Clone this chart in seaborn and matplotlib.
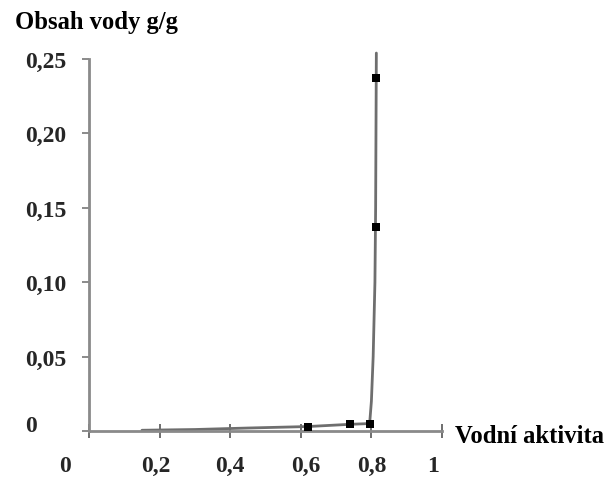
import matplotlib
matplotlib.use("Agg")
import matplotlib.pyplot as plt
import matplotlib.transforms as mtransforms
import seaborn as sns
import pandas as pd

# measured points
aw_points = [0.62, 0.74, 0.795, 0.812, 0.812]
water_points = [0.003, 0.0045, 0.005, 0.137, 0.237]

# fitted curve drawn through the points
aw_curve = [0.15, 0.30, 0.45, 0.62, 0.74, 0.795, 0.800, 0.805, 0.810, 0.812, 0.814]
water_curve = [0.0005, 0.001, 0.002, 0.003, 0.0045, 0.005, 0.02, 0.05, 0.10, 0.15, 0.254]

x_ticks = [0, 0.2, 0.4, 0.6, 0.8, 1.0]
x_labels = ["0", "0,2", "0,4", "0,6", "0,8", "1"]
y_ticks = [0, 0.05, 0.10, 0.15, 0.20, 0.25]
y_labels = ["0", "0,05", "0,10", "0,15", "0,20", "0,25"]

sns.set_theme(style="white")
plt.rcParams["font.family"] = ["Liberation Serif", "DejaVu Serif"]
plt.rcParams["font.weight"] = "bold"

DPI = 100
fig = plt.figure(figsize=(6.11, 4.81), dpi=DPI)
W, H = 611, 481
x0, x1, ytop, ybot = 89, 442, 60, 432
ax = fig.add_axes([x0 / W, 1 - ybot / H, (x1 - x0) / W, (ybot - ytop) / H])

curve = pd.DataFrame({"aw": aw_curve, "w": water_curve})
pts = pd.DataFrame({"aw": aw_points, "w": water_points})

sns.lineplot(data=curve, x="aw", y="w", ax=ax, color="#6e6e6e", linewidth=2,
             sort=False, estimator=None, clip_on=False)
sns.scatterplot(data=pts, x="aw", y="w", ax=ax, color="black", marker="s",
                s=40, edgecolor="black", linewidth=0, zorder=5, clip_on=False)

ax.set_xlim(0, 1)
ax.set_ylim(0, 0.25)
for s in ["top", "right"]:
    ax.spines[s].set_visible(False)
for s in ["left", "bottom"]:
    ax.spines[s].set_color("#8a8a8a")
    ax.spines[s].set_linewidth(2)

TFS = 17
ax.set_xticks(x_ticks)
ax.set_xticklabels(x_labels, fontsize=TFS, fontweight="bold")
ax.set_yticks(y_ticks)
ax.set_yticklabels(y_labels, fontsize=TFS, fontweight="bold", ha="left")
ax.tick_params(axis="x", bottom=True, direction="inout", length=10, width=1.2,
               color="#555555", pad=12)
ax.tick_params(axis="y", left=True, direction="out", length=5, width=1.2,
               color="#777777", pad=(89 - 25) / (DPI / 72) - 5)
ax.set_xlabel("")
ax.set_ylabel("")

# small offsets of individual labels as in the reference
px = lambda dx, dy: mtransforms.ScaledTranslation(dx / DPI, dy / DPI, fig.dpi_scale_trans)
xl = ax.get_xticklabels()
xoff = [-24, -4, 0, 5, 0, -9]
for lab, dx in zip(xl, xoff):
    lab.set_transform(lab.get_transform() + px(dx, 0))
yl = ax.get_yticklabels()
yl[0].set_transform(yl[0].get_transform() + px(0, 8))

LFS = 17.7
fig.text(15 / W, 1 - 23 / H, "Obsah vody g/g", fontsize=LFS, fontweight="bold",
         ha="left", va="center", color="black")
fig.text(455 / W, 1 - 437 / H, "Vodní aktivita", fontsize=LFS, fontweight="bold",
         ha="left", va="center", color="black")

fig.savefig("out.png", dpi=DPI)
